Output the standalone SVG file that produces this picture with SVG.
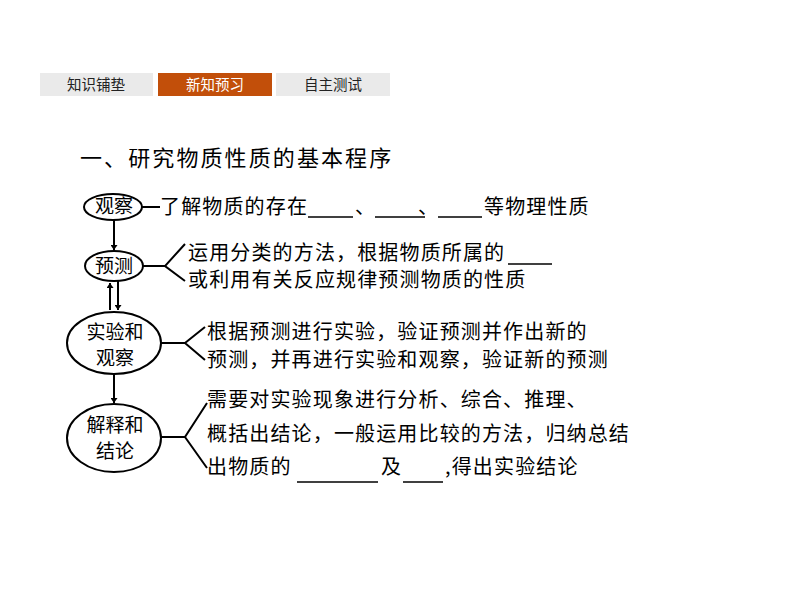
<svg xmlns="http://www.w3.org/2000/svg" width="794" height="596" viewBox="0 0 794 596">
<defs>
<style>
.tab{font-family:"Noto Sans CJK SC","Liberation Sans",sans-serif;font-size:14.5px;text-anchor:middle}
.t{font-family:"Noto Sans CJK SC","Liberation Sans",sans-serif;font-size:20px;letter-spacing:1.15px;fill:#000}
.lbl{font-family:"Noto Sans CJK SC","Liberation Sans",sans-serif;font-size:19px;text-anchor:middle;fill:#000}
.ln{stroke:#000;stroke-width:2;fill:none}
.el{stroke:#000;stroke-width:2;fill:#fff}
.bl{stroke:#000;stroke-width:1.6}
</style>
<marker id="ah" viewBox="0 0 10 10" refX="10" refY="5" markerWidth="5" markerHeight="7" markerUnits="userSpaceOnUse" orient="auto" preserveAspectRatio="none">
<path d="M0,0 L10,5 L0,10 Z" fill="#000"/>
</marker>
</defs>
<rect width="794" height="596" fill="#fff"/>
<g id="tabs">
<rect x="40" y="73" width="113" height="23" fill="#EAEAEA"/>
<text class="tab" x="96" y="90" fill="#222">知识铺垫</text>
<rect x="158" y="73" width="114" height="23" fill="#C24F0A"/>
<text class="tab" x="215" y="90" fill="#fff">新知预习</text>
<rect x="276" y="73" width="114" height="23" fill="#EAEAEA"/>
<text class="tab" x="333" y="90" fill="#222">自主测试</text>
</g>
<text id="title" x="80" y="166" font-family="Noto Sans CJK SC, Liberation Sans, sans-serif" font-size="22" letter-spacing="2.1" fill="#000">一、研究物质性质的基本程序</text>
<g id="connectors">
<line class="ln" x1="114" y1="219" x2="114" y2="250" marker-end="url(#ah)"/>
<line class="ln" x1="110" y1="310" x2="110" y2="283" marker-end="url(#ah)"/>
<line class="ln" x1="118" y1="281" x2="118" y2="310" marker-end="url(#ah)"/>
<line class="ln" x1="114" y1="375" x2="114" y2="403" marker-end="url(#ah)"/>
<line class="ln" x1="142" y1="207" x2="160" y2="207"/>
<polyline class="ln" points="143,266 165,266"/>
<polyline class="ln" points="185,244 165,266 185,281"/>
<polyline class="ln" points="161,343 185,343"/>
<polyline class="ln" points="205,327 185,343 205,360"/>
<polyline class="ln" points="161,437 185,437"/>
<polyline class="ln" points="207,403 185,437 207,468"/>
</g>
<g id="n-guancha">
<ellipse class="el" cx="113" cy="207" rx="29" ry="13"/>
<text class="lbl" x="114" y="213">观察</text>
</g>
<g id="n-yuce">
<ellipse class="el" cx="114" cy="266" rx="29" ry="15"/>
<text class="lbl" x="114" y="273">预测</text>
</g>
<g id="n-shiyan">
<ellipse class="el" cx="114" cy="343" rx="47" ry="31"/>
<text class="lbl" x="115" y="339">实验和</text>
<text class="lbl" x="115" y="365">观察</text>
</g>
<g id="n-jieshi">
<ellipse class="el" cx="114" cy="438" rx="47" ry="34"/>
<text class="lbl" x="115" y="432">解释和</text>
<text class="lbl" x="115" y="458">结论</text>
</g>
<g id="texts">
<text class="t" x="160" y="214">了解物质的存在</text>
<line class="bl" x1="308" y1="217" x2="353" y2="217"/>
<text class="t" x="355" y="214">、</text>
<line class="bl" x1="375" y1="217" x2="425" y2="217"/>
<text class="t" x="418" y="214">、</text>
<line class="bl" x1="438" y1="217" x2="482" y2="217"/>
<text class="t" x="484" y="214">等物理性质</text>

<text class="t" x="188" y="260">运用分类的方法，根据物质所属的</text>
<line class="bl" x1="508" y1="264" x2="552" y2="264"/>
<text class="t" x="188" y="287">或利用有关反应规律预测物质的性质</text>

<text class="t" x="207" y="339">根据预测进行实验，验证预测并作出新的</text>
<text class="t" x="207" y="367">预测，并再进行实验和观察，验证新的预测</text>

<text class="t" x="207" y="407">需要对实验现象进行分析、综合、推理、</text>
<text class="t" x="207" y="441">概括出结论，一般运用比较的方法，归纳总结</text>
<text class="t" x="207" y="474">出物质的</text>
<line class="bl" x1="297" y1="482" x2="378" y2="482"/>
<text class="t" x="381" y="474">及</text>
<line class="bl" x1="403" y1="482" x2="443" y2="482"/>
<text class="t" x="445" y="474">,得出实验结论</text>
</g>
</svg>
